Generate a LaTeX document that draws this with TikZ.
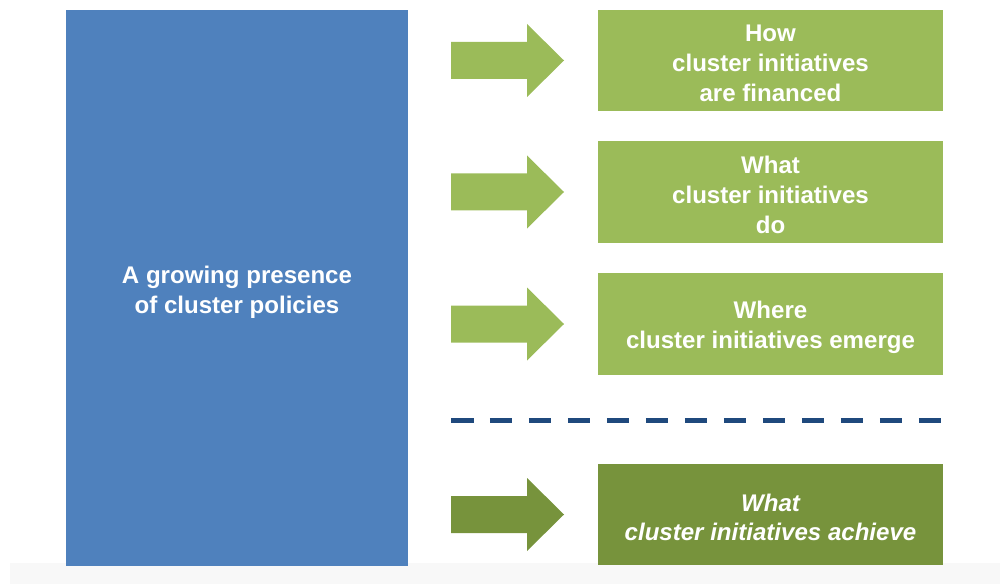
\documentclass[tikz,border=0pt]{standalone}
\usepackage{fontspec}
\setmainfont{Liberation Sans}

\definecolor{policyblue}{HTML}{4F81BD}
\definecolor{topicgreen}{HTML}{9BBB59}
\definecolor{resultgreen}{HTML}{77933C}
\definecolor{ruleblue}{HTML}{1F497D}
\definecolor{footgray}{HTML}{F8F8F8}

\tikzset{
    label text/.style={text=white, align=center, inner sep=0pt,
        font=\fontsize{13.7}{16.9}\selectfont\bfseries},
    topic/.style={fill=topicgreen, minimum width=6.9cm, minimum height=2.04cm},
    result/.style={topic, fill=resultgreen},
}

\begin{document}
\begin{tikzpicture}[x=0.02cm, y=-0.02cm]
    \useasboundingbox (0,0) rectangle (1000,584);
    \fill[footgray] (10,563) rectangle (1000,584);

    % Policy column
    \fill[policyblue] (66,10) rectangle (408,566);
    \node[label text] (policy) at (237,292) {A growing presence\\of cluster policies};

    % Topic boxes
    \node[topic] (financed) at (770.5,60.5) {};
    \node[topic] (doing) at (770.5,192) {};
    \node[topic] (emerge) at (770.5,324) {};
    \node[result] (achieve) at (770.5,514.5) {};

    \node[label text] (financed-txt) at ([yshift=-0.06cm]financed.center) {How\\cluster initiatives\\are financed};
    \node[label text] (doing-txt) at ([yshift=-0.055cm]doing.center) {What\\cluster initiatives\\do};
    \node[label text] (emerge-txt) at ([yshift=-0.07cm]emerge.center) {Where\\cluster initiatives emerge};
    \node[label text, font=\fontsize{13.7}{16.9}\selectfont\bfseries\itshape]
        (achieve-txt) at ([yshift=-0.06cm]achieve.center) {What\\cluster initiatives achieve};

    % Block arrows in front of each box
    \foreach \c/\col in {60.5/topicgreen, 192/topicgreen, 324/topicgreen, 514.5/resultgreen}
        \fill[\col] (451,\c-18.5) -- (527,\c-18.5) -- (527,\c-36.5) -- (564,\c)
            -- (527,\c+36.5) -- (527,\c+18.5) -- (451,\c+18.5) -- cycle;

    % Separator
    \coordinate (sepL) at (451,420);
    \coordinate (sepR) at (941,420);
    \draw[ruleblue, line width=0.1cm, dash pattern=on 0.45cm off 0.33cm] (sepL) -- (sepR);
\end{tikzpicture}
\end{document}
